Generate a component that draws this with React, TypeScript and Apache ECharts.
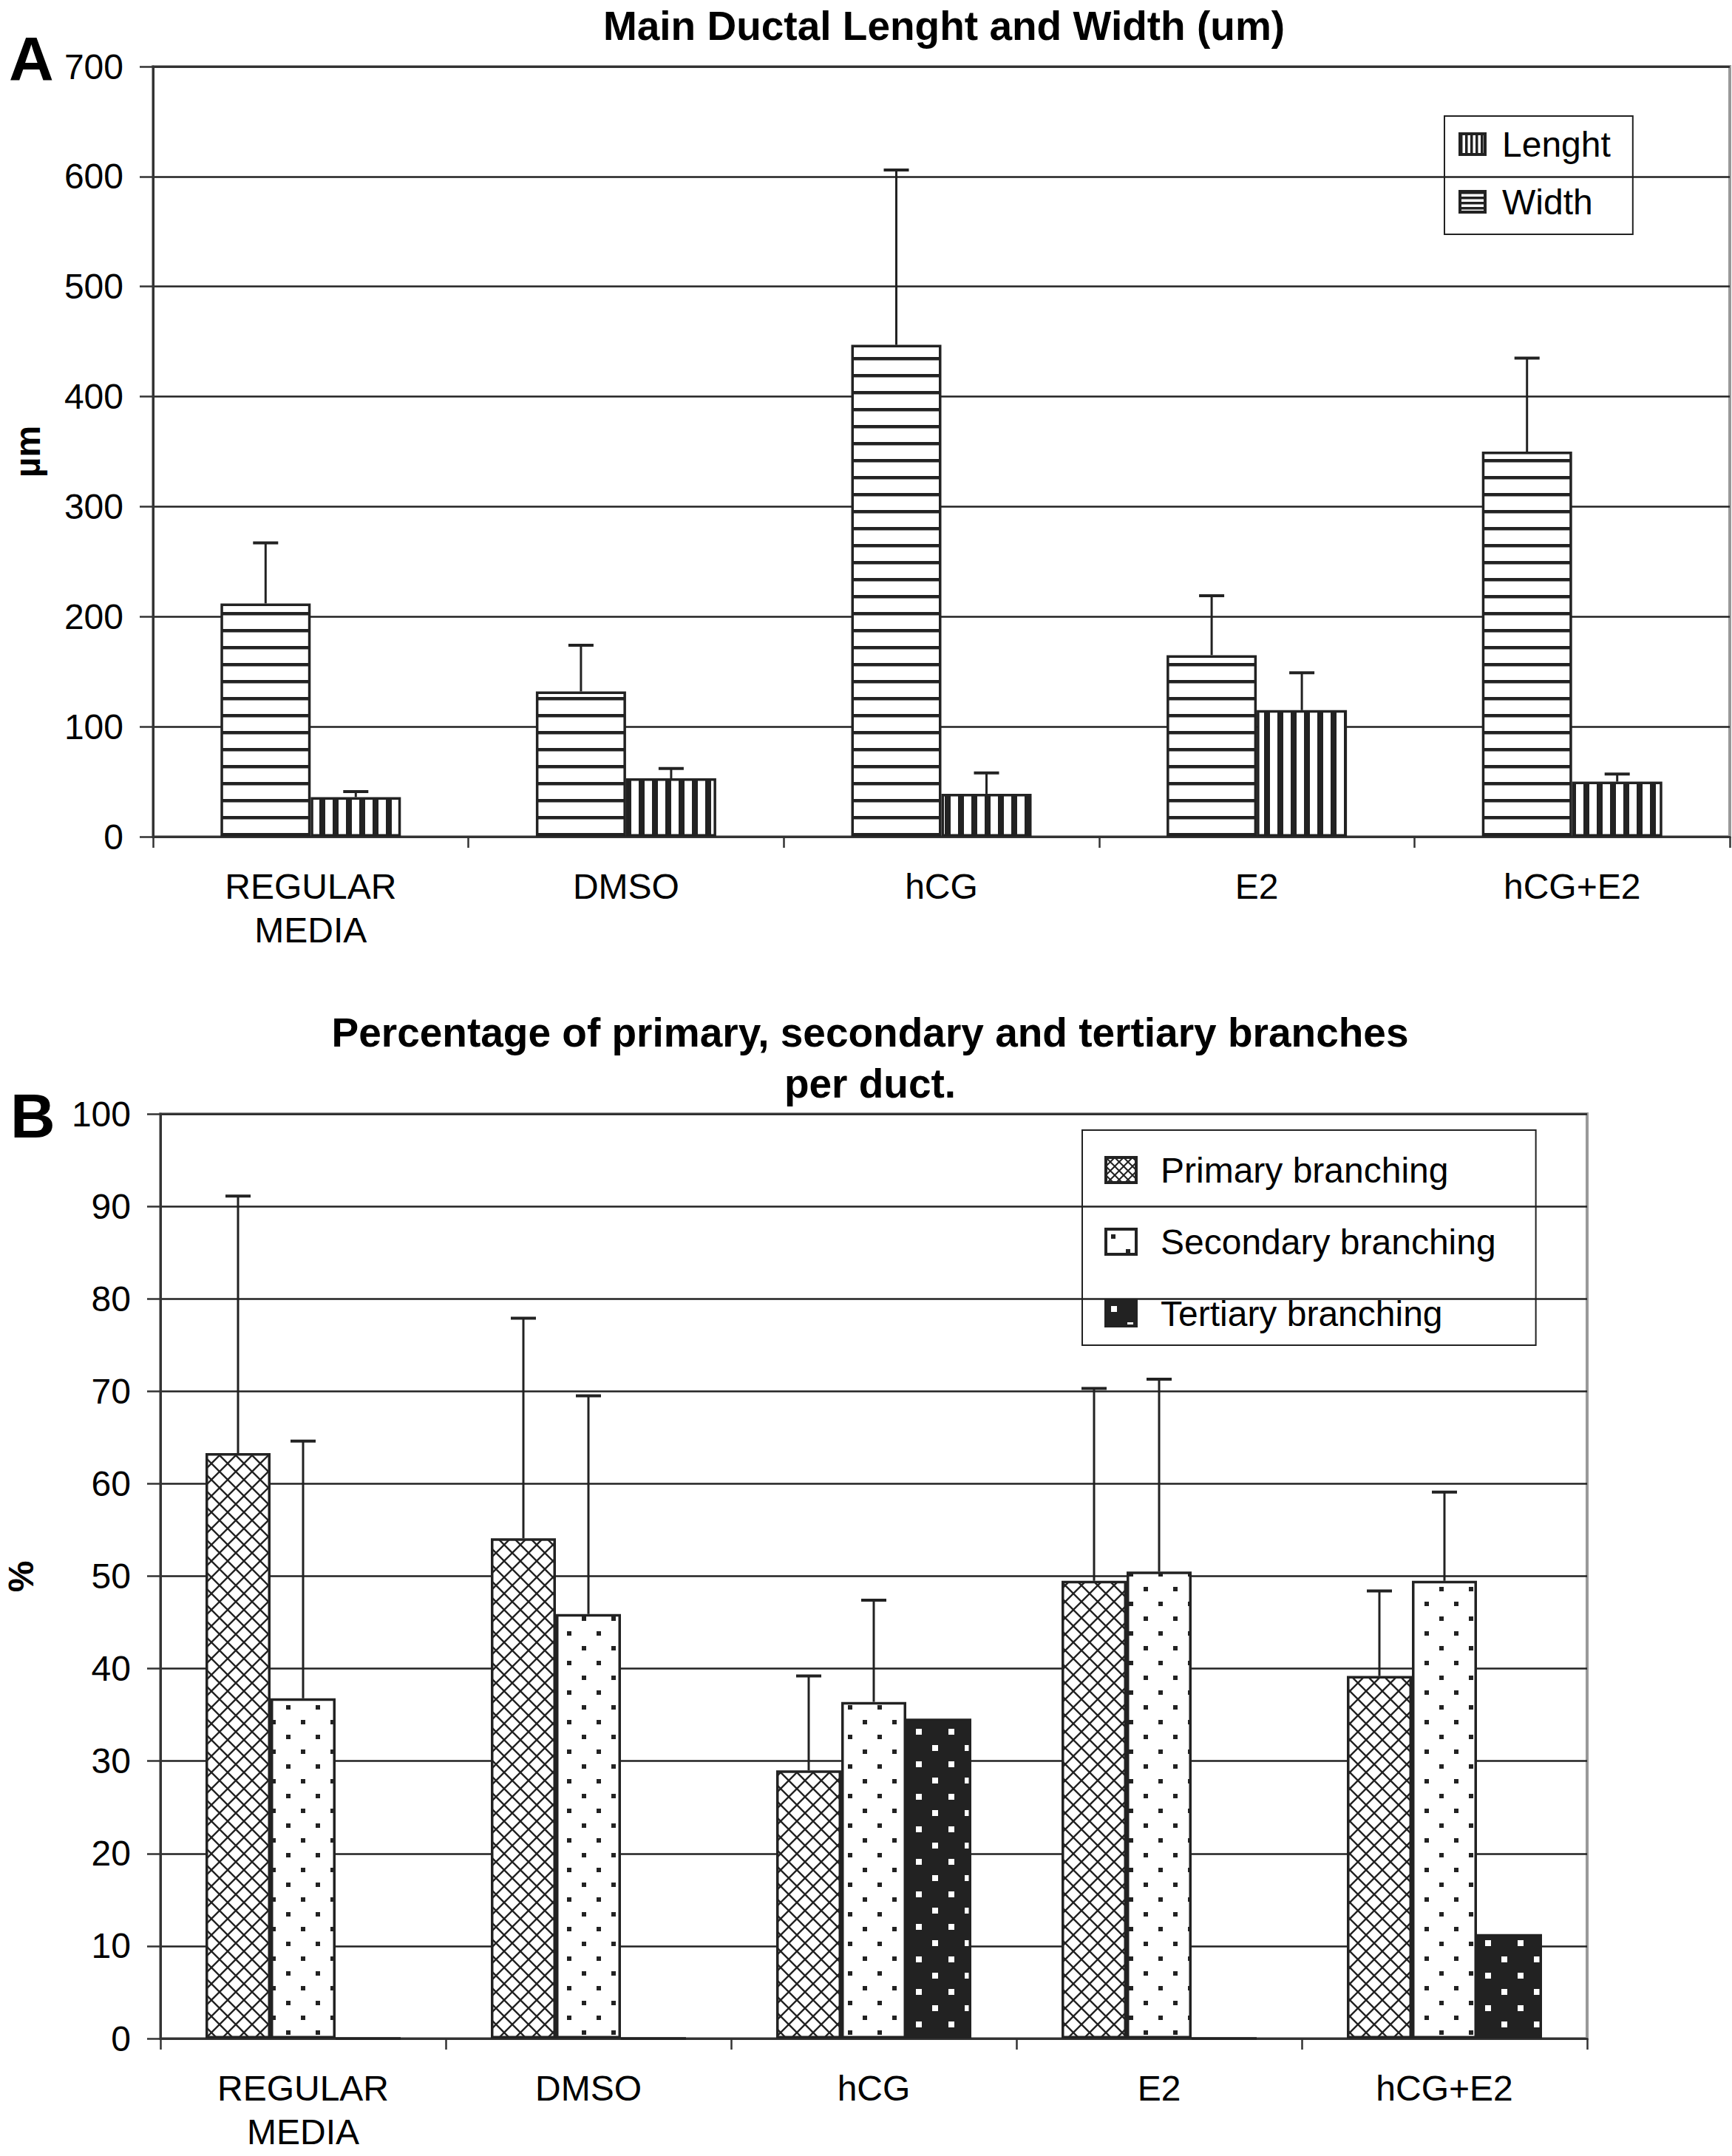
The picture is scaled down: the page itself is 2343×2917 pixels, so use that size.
import React, { useEffect, useRef } from "react";
import * as echarts from "echarts";

const FONT = "'Liberation Sans', Arial, sans-serif";

// ---- Chart A data ----
const categoriesA = ["REGULAR\nMEDIA", "DMSO", "hCG", "E2", "hCG+E2"];
const lengthMean = [212, 132, 447, 165, 350];
const lengthUpper = [267, 174, 606, 219, 435];
const widthMean = [36, 53, 39, 115, 50];
const widthUpper = [41, 62, 58, 149, 57];
const yTicksA = { min: 0, max: 700, interval: 100 };

// ---- Chart B data ----
const categoriesB = ["REGULAR\nMEDIA", "DMSO", "hCG", "E2", "hCG+E2"];
const primaryMean = [63.3, 54.1, 29.0, 49.5, 39.2];
const primaryUpper = [91.1, 77.9, 39.2, 70.3, 48.4];
const secondaryMean = [36.8, 45.9, 36.4, 50.5, 49.5];
const secondaryUpper = [64.6, 69.5, 47.4, 71.3, 59.1];
const tertiaryMean = [0, 0, 34.6, 0, 11.3];
const yTicksB = { min: 0, max: 100, interval: 10 };

function makeTile(w: number, h: number, draw: (ctx: CanvasRenderingContext2D) => void) {
  const c = document.createElement("canvas");
  c.width = w;
  c.height = h;
  const ctx = c.getContext("2d")!;
  draw(ctx);
  return { image: c, repeat: "repeat", imageWidth: w, imageHeight: h } as any;
}

export default function App() {
  const ref = useRef<HTMLDivElement>(null);

  useEffect(() => {
    document.body.style.margin = "0";
    const chart = echarts.init(ref.current!, undefined, { renderer: "svg" });

    const ink = "#222";
    const hStripes = makeTile(16, 23, (ctx) => {
      ctx.fillStyle = "#fff";
      ctx.fillRect(0, 0, 16, 23);
      ctx.fillStyle = ink;
      ctx.fillRect(0, 0, 16, 4.5);
    });
    const vStripes = makeTile(18, 16, (ctx) => {
      ctx.fillStyle = "#fff";
      ctx.fillRect(0, 0, 18, 16);
      ctx.fillStyle = ink;
      ctx.fillRect(0, 0, 8, 16);
    });
    const hStripesIcon = makeTile(8, 7, (ctx) => {
      ctx.fillStyle = "#fff";
      ctx.fillRect(0, 0, 8, 7);
      ctx.fillStyle = ink;
      ctx.fillRect(0, 0, 8, 3.5);
    });
    const vStripesIcon = makeTile(7, 8, (ctx) => {
      ctx.fillStyle = "#fff";
      ctx.fillRect(0, 0, 7, 8);
      ctx.fillStyle = ink;
      ctx.fillRect(0, 0, 3.5, 8);
    });
    const cross = makeTile(22, 22, (ctx) => {
      ctx.fillStyle = "#fff";
      ctx.fillRect(0, 0, 22, 22);
      ctx.strokeStyle = ink;
      ctx.lineWidth = 2.4;
      for (const d of [-22, 0, 22]) {
        ctx.beginPath();
        ctx.moveTo(d, 0);
        ctx.lineTo(d + 22, 22);
        ctx.moveTo(d + 22, 0);
        ctx.lineTo(d, 22);
        ctx.stroke();
      }
    });
    const crossIcon = makeTile(12, 12, (ctx) => {
      ctx.fillStyle = "#fff";
      ctx.fillRect(0, 0, 12, 12);
      ctx.strokeStyle = ink;
      ctx.lineWidth = 2;
      for (const d of [-12, 0, 12]) {
        ctx.beginPath();
        ctx.moveTo(d, 0);
        ctx.lineTo(d + 12, 12);
        ctx.moveTo(d + 12, 0);
        ctx.lineTo(d, 12);
        ctx.stroke();
      }
    });
    const dotsW = makeTile(40, 40, (ctx) => {
      ctx.fillStyle = "#fff";
      ctx.fillRect(0, 0, 40, 40);
      ctx.fillStyle = ink;
      ctx.fillRect(7, 7, 6, 6);
      ctx.fillRect(27, 27, 6, 6);
    });
    const dotsB = makeTile(44, 44, (ctx) => {
      ctx.fillStyle = ink;
      ctx.fillRect(0, 0, 44, 44);
      ctx.fillStyle = "#fff";
      ctx.fillRect(7, 7, 8, 8);
      ctx.fillRect(29, 29, 8, 8);
    });

    const errSeries = (
      name: string,
      xi: number,
      means: number[],
      uppers: number[],
      offset: number
    ) => ({
      name,
      type: "custom",
      xAxisIndex: xi,
      yAxisIndex: xi,
      z: 5,
      encode: { x: 0, y: 1 },
      data: means.map((m, i) => [i, m, uppers[i]]),
      renderItem: (params: any, api: any) => {
        const x = api.value(0);
        const m = api.value(1);
        const u = api.value(2);
        const b = api.coord([x, m]);
        const t = api.coord([x, u]);
        const cx = b[0] + offset;
        return {
          type: "group",
          children: [
            { type: "line", shape: { x1: cx, y1: b[1], x2: cx, y2: t[1] }, style: { stroke: ink, lineWidth: 3 } },
            { type: "line", shape: { x1: cx - 17, y1: t[1], x2: cx + 17, y2: t[1] }, style: { stroke: ink, lineWidth: 4 } },
          ],
        };
      },
    });

    const xAxisBase = (gi: number, data: string[]) => ({
      gridIndex: gi,
      type: "category",
      data,
      axisLine: { lineStyle: { color: "#333", width: 3 } },
      axisTick: { show: true, length: 15, lineStyle: { color: "#333", width: 2.5 } },
      axisLabel: { fontSize: 48, fontFamily: FONT, color: "#000", margin: 38, lineHeight: 59, interval: 0 },
    });
    const yAxisBase = (gi: number, t: { min: number; max: number; interval: number }) => ({
      gridIndex: gi,
      type: "value",
      min: t.min,
      max: t.max,
      interval: t.interval,
      axisLine: { show: true, lineStyle: { color: "#333", width: 3 } },
      axisTick: { show: true, length: 18, lineStyle: { color: "#333", width: 2.5 } },
      axisLabel: { fontSize: 48, fontFamily: FONT, color: "#000", margin: 40 },
      splitLine: { show: true, lineStyle: { color: ink, width: 2.5 } },
    });

    const barStyle = (color: any) => ({ color, borderColor: ink, borderWidth: 3.5 });

    chart.setOption({
      animation: false,
      backgroundColor: "#fff",
      title: [
        {
          text: "Main Ductal Lenght and Width (um)",
          left: 1272,
          top: -2,
          textAlign: "center",
          textStyle: { fontSize: 55, fontWeight: "bold", color: "#000", fontFamily: FONT, lineHeight: 64 },
        },
        {
          text: "Percentage of primary, secondary and tertiary branches\nper duct.",
          left: 1172,
          top: 1357,
          textAlign: "center",
          textStyle: { fontSize: 55, fontWeight: "bold", color: "#000", fontFamily: FONT, lineHeight: 69 },
        },
      ],
      grid: [
        { left: 207, top: 90, width: 2133, height: 1042, show: true, borderColor: "#999", borderWidth: 4 },
        { left: 217, top: 1507, width: 1930, height: 1251, show: true, borderColor: "#999", borderWidth: 4 },
      ],
      legend: [
        {
          orient: "vertical",
          left: 1954,
          top: 157,
          icon: "rect",
          data: [
            { name: "Lenght", itemStyle: { color: vStripesIcon } },
            { name: "Width", itemStyle: { color: hStripesIcon } },
          ],
          itemWidth: 34,
          itemHeight: 28,
          itemGap: 30,
          padding: [14, 30, 20, 19],
          borderColor: ink,
          borderWidth: 2,
          itemStyle: { borderColor: ink, borderWidth: 4 },
          textStyle: { fontSize: 48, color: "#000", fontFamily: FONT, padding: [0, 0, 0, 18] },
        },
        {
          orient: "vertical",
          left: 1464,
          top: 1529,
          icon: "rect",
          data: [
            { name: "Primary branching", itemStyle: { color: crossIcon } },
            { name: "Secondary branching" },
            { name: "Tertiary branching" },
          ],
          itemWidth: 41,
          itemHeight: 34,
          itemGap: 49,
          padding: [30, 54, 19, 30],
          borderColor: ink,
          borderWidth: 2,
          itemStyle: { borderColor: ink, borderWidth: 4 },
          textStyle: { fontSize: 48, color: "#000", fontFamily: FONT, padding: [0, 0, 0, 28] },
        },
      ],
      xAxis: [xAxisBase(0, categoriesA), xAxisBase(1, categoriesB)],
      yAxis: [yAxisBase(0, yTicksA), yAxisBase(1, yTicksB)],
      series: [
        { name: "Lenght", type: "bar", xAxisIndex: 0, yAxisIndex: 0, data: lengthMean, barWidth: 122, barGap: "0%", itemStyle: barStyle(hStripes) },
        { name: "Width", type: "bar", xAxisIndex: 0, yAxisIndex: 0, data: widthMean, barWidth: 122, barGap: "0%", itemStyle: barStyle(vStripes) },
        errSeries("errLenght", 0, lengthMean, lengthUpper, -61),
        errSeries("errWidth", 0, widthMean, widthUpper, 61),
        { name: "Primary branching", type: "bar", xAxisIndex: 1, yAxisIndex: 1, data: primaryMean, barWidth: 88, barGap: "0%", itemStyle: barStyle(cross) },
        { name: "Secondary branching", type: "bar", xAxisIndex: 1, yAxisIndex: 1, data: secondaryMean, barWidth: 88, barGap: "0%", itemStyle: barStyle(dotsW) },
        { name: "Tertiary branching", type: "bar", xAxisIndex: 1, yAxisIndex: 1, data: tertiaryMean, barWidth: 88, barGap: "0%", itemStyle: barStyle(dotsB) },
        errSeries("errPrimary", 1, primaryMean, primaryUpper, -88),
        errSeries("errSecondary", 1, secondaryMean, secondaryUpper, 0),
      ],
      graphic: [
        { type: "text", left: 12, top: 38, style: { text: "A", font: `bold 84px ${FONT}`, fill: "#000" } },
        { type: "text", left: 14, top: 1468, style: { text: "B", font: `bold 84px ${FONT}`, fill: "#000" } },
        { type: "text", x: 37, y: 611, rotation: Math.PI / 2, style: { text: "µm", font: `bold 48px ${FONT}`, fill: "#000", align: "center", verticalAlign: "middle" } },
        { type: "text", x: 28, y: 2133, rotation: Math.PI / 2, style: { text: "%", font: `bold 48px ${FONT}`, fill: "#000", align: "center", verticalAlign: "middle" } },
      ],
    });

    return () => chart.dispose();
  }, []);

  return <div ref={ref} style={{ width: 2343, height: 2917 }} />;
}
